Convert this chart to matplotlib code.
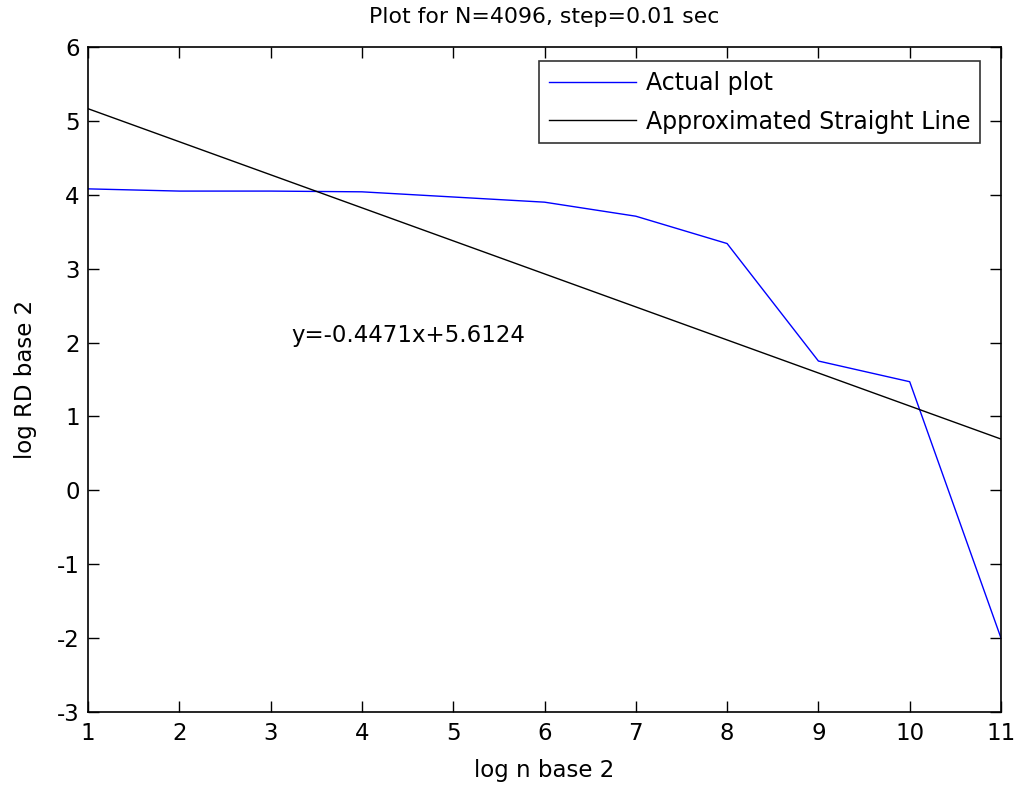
import matplotlib
matplotlib.use("Agg")
import matplotlib.pyplot as plt

# Data
x_actual = [1, 2, 3, 4, 5, 6, 7, 8, 9, 10, 11]
y_actual = [4.08, 4.05, 4.05, 4.04, 3.97, 3.90, 3.71, 3.34, 1.75, 1.47, -2.0]
x_fit = [1, 11]
y_fit = [5.165, 0.694]
equation_text = "y=-0.4471x+5.6124"
title_text = "Plot for N=4096, step=0.01 sec"
xticks = list(range(1, 12))
yticks = list(range(-3, 7))

plt.rcParams['font.family'] = ['DejaVu Sans']
plt.rcParams['axes.unicode_minus'] = False
fs = 16.5

fig = plt.figure(figsize=(10.16, 7.85), dpi=100)
W, H = 1016, 785
ax = fig.add_axes([88 / W, 1 - 712 / H, (1001 - 88) / W, (712 - 47) / H])

ax.plot(x_actual, y_actual, color='#0000ff', lw=1.0, label='Actual plot')
ax.plot(x_fit, y_fit, color='black', lw=1.0, label='Approximated Straight Line')

ax.set_xlim(1, 11)
ax.set_ylim(-3, 6)
ax.set_xticks(xticks)
ax.set_yticks(yticks)
ax.tick_params(direction='in', length=8, width=1, top=True, right=True,
               labelsize=fs)
ax.tick_params(axis='x', pad=7)
ax.tick_params(axis='y', pad=6)
for s in ax.spines.values():
    s.set_linewidth(1.2)

ax.text(3.23, 2.10, equation_text, fontsize=fs, va='center', ha='left')
ax.set_title(title_text, fontsize=15.8, pad=17)
ax.set_xlabel('log n base 2', fontsize=fs, labelpad=10)
ax.set_ylabel('log RD base 2', fontsize=fs, labelpad=14)

leg = ax.legend(loc='upper right', fontsize=17, frameon=True, fancybox=False,
                edgecolor='black', borderaxespad=0, bbox_to_anchor=(980 / W, 1 - 61 / H),
                bbox_transform=fig.transFigure, handlelength=3.7, handletextpad=0.4,
                borderpad=0.42, labelspacing=0.62)
leg.get_frame().set_linewidth(1.2)

fig.savefig('out.png', dpi=100)
